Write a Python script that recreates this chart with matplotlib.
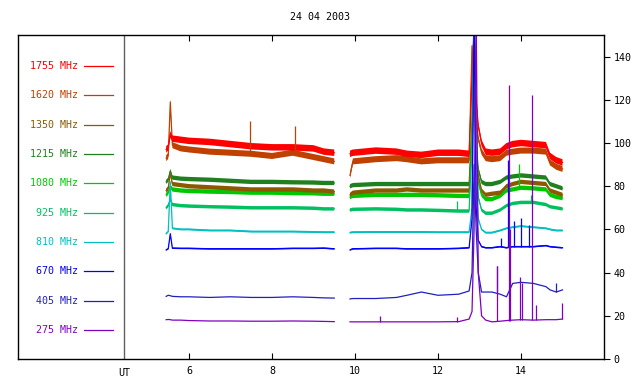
import numpy as np
import matplotlib
matplotlib.use('Agg')
import matplotlib.pyplot as plt

nan = np.nan

# time grid (UT hours), NaN marks the data gap
hours = [5.45, 5.5, 5.55, 5.6, 5.8, 6.0, 6.5, 7.0, 7.5, 8.0, 8.5, 9.0, 9.25, 9.5, nan,
         9.88, 9.95, 10.5, 11.0, 11.25, 11.6, 12.0, 12.5, 12.75, 12.82, 12.87, 12.92, 12.97,
         13.05, 13.15, 13.3, 13.5, 13.65, 13.8, 14.0, 14.3, 14.6, 14.7, 14.85, 15.0]

labels = ['1755 MHz', '1620 MHz', '1350 MHz', '1215 MHz', '1080 MHz',
          '925 MHz', '810 MHz', '670 MHz', '405 MHz', '275 MHz']
colors = ['#ff0000', '#c04000', '#8b5a00', '#208020', '#00c800',
          '#00c060', '#00c0c0', '#0000ff', '#2020c0', '#8000c0']

f1755 = [97, 98, 104, 102, 101.5, 101, 100.5, 99.5, 98.5, 98, 98, 97.5, 96, 95.5, nan,
         95, 95.5, 96.5, 96, 95, 94.5, 95.5, 95.5, 95, 130, 155, 120, 108,
         100, 96, 95.5, 96, 98.5, 99.5, 100, 99.5, 99, 94, 92, 91]
f1620 = [93, 94, 119, 99, 97.5, 97, 96, 95.5, 95, 94, 95.5, 93.5, 92.5, 91.5, nan,
         85, 91.5, 92.5, 93, 92.5, 91.5, 92, 92, 92, 145, 125, 110, 102,
         96, 93, 92.5, 93, 95.5, 96, 96.5, 96.5, 96, 91, 89, 88]
f1350 = [78, 79, 86, 81, 80.5, 80, 79.5, 79, 78.5, 78.5, 78.5, 78, 78, 77.5, nan,
         76, 77, 78, 78, 78.5, 78, 78, 78, 78, 100, 120, 95, 85,
         78, 76, 76.5, 77, 80, 81, 82, 81.5, 81, 78, 77, 76]
f1215 = [82, 83, 87, 84, 83.5, 83.3, 83, 82.5, 82, 82, 81.8, 81.7, 81.5, 81.5, nan,
         80, 80.5, 81, 81, 81, 81, 81, 81, 81, 110, 155, 100, 88,
         82, 81, 81, 82, 84, 84.5, 85, 84.5, 84, 81, 80, 79]
f1080 = [76, 77, 80, 78.5, 78, 77.8, 77.5, 77.3, 77, 77, 76.8, 76.7, 76.5, 76.5, nan,
         75, 75.5, 76, 76, 76, 76, 75.8, 75.5, 75.5, 105, 160, 100, 82,
         76, 74, 74, 75.5, 78, 78.5, 79.3, 79, 78.5, 76, 75, 74.5]
f925 = [70, 71, 74, 71.5, 71, 70.8, 70.5, 70.3, 70, 70, 70, 69.8, 69.5, 69.5, nan,
        69, 69.3, 69.5, 69.3, 69, 69, 68.8, 68.5, 68.5, 100, 160, 95, 75,
        69, 67.5, 67.5, 69, 71, 72, 72.5, 72.5, 71.5, 70.5, 70, 69.5]
f810 = [58, 59, 82, 60.5, 60, 60, 59.5, 59.5, 59, 59, 59, 58.8, 58.7, 58.7, nan,
        58.5, 58.7, 58.8, 58.8, 58.8, 58.8, 58.7, 58.7, 58.7, 70, 160, 80, 65,
        60, 58.5, 58.5, 59.5, 60.5, 61, 61.5, 61, 60.5, 60, 59.5, 59.5]
f670 = [50.5, 51, 58, 51.3, 51.2, 51.2, 51, 51, 51, 51, 51.2, 51.2, 51.3, 51, nan,
        50.5, 51, 51.2, 51.2, 51, 51, 51, 51.2, 51.5, 65, 160, 70, 55,
        52, 51.5, 51.5, 52, 51.5, 52, 52, 52, 52.5, 52, 51.7, 51.5]
f405 = [29, 29.5, 29.3, 29, 28.8, 28.8, 28.5, 28.8, 28.5, 28.5, 28.8, 28.5, 28.3, 28.2, nan,
        27.8, 28, 28, 28.5, 29.5, 31, 29.5, 30, 31.5, 40, 90, 60, 40,
        31, 31, 31, 30, 28.8, 35, 35.5, 35, 33.5, 32, 31, 32]
f275 = [18.2, 18.3, 18.2, 18, 18, 17.8, 17.6, 17.6, 17.5, 17.5, 17.6, 17.5, 17.4, 17.3, nan,
        17.2, 17.2, 17.2, 17.2, 17.2, 17.2, 17.2, 17.3, 18.5, 22, 60, 160, 40,
        20, 18, 17.2, 17.5, 17.8, 18, 18.2, 18, 18.2, 18.2, 18.2, 18.5]
series = [f1755, f1620, f1350, f1215, f1080, f925, f810, f670, f405, f275]
# half-width of the noise band of each channel
noise = [1.5, 1.4, 1.0, 1.0, 1.0, 0.8, 0.45, 0.35, 0.0, 0.0]
# drawing order (brown on top of greens like the original)
order = [3, 4, 2, 1, 0, 5, 6, 7, 8, 9]

# isolated spikes: (time, base, peak)
spikes_1620 = [(7.47, 95, 110), (8.55, 95, 108)]
spikes_1080 = [(13.95, 79, 90.5)]
spikes_925 = [(12.45, 68.5, 73), (14.23, 72, 76)]
spikes_670 = [(13.52, 52, 56), (13.68, 52, 92), (13.83, 52, 64), (14.0, 52, 65.5), (14.19, 52, 62)]
spikes_405 = [(13.41, 31, 43), (14.85, 31, 35)]
spikes_275 = [(13.42, 17.5, 43), (13.7, 17.8, 127), (13.73, 17.8, 60), (13.97, 18, 38),
              (14.02, 18, 35), (14.27, 18.2, 122), (14.35, 18.2, 25), (15.0, 18.5, 26),
              (10.6, 17.2, 20), (12.45, 17.3, 19.5)]
spikes = {1: spikes_1620, 4: spikes_1080, 5: spikes_925, 7: spikes_670, 8: spikes_405, 9: spikes_275}

fig = plt.figure(figsize=(6.4, 3.84), dpi=100)
ax = fig.add_axes([18 / 640, 25 / 384, 586 / 640, 324 / 384])
mono = 'DejaVu Sans Mono'

t = np.array(hours)
for k, i in enumerate(order):
    v = np.array(series[i], dtype=float)
    if noise[i] > 0:
        ax.fill_between(t, v - noise[i], v + noise[i], color=colors[i], lw=0, zorder=2 + k * 0.01)
    ax.plot(t, v, color=colors[i], lw=0.9, zorder=2 + k * 0.01)
    for s in spikes.get(i, []):
        ax.vlines(s[0], s[1], s[2], color=colors[i], lw=0.9, zorder=3)

# legend drawn inside the left panel
for i in range(len(labels)):
    y = 135.7 - i * 13.58
    ax.text(3.33, y, labels[i], color=colors[i], ha='right', va='center', fontsize=7.2, family=mono)
    ax.plot([3.47, 4.16], [y, y], color=colors[i], lw=0.9)

ax.axvline(4.43, color='#606060', lw=1)
ax.text(4.43, -4, 'UT', ha='center', va='top', fontsize=7.2, family=mono)

ax.set_xlim(1.88, 16.0)
ax.set_ylim(0, 150)
ax.set_xticks([6, 8, 10, 12, 14])
ax.set_yticks(range(0, 141, 20))
ax.yaxis.tick_right()
ax.tick_params(axis='x', direction='in', top=True, bottom=True, length=4, labelsize=7.2, pad=5)
ax.tick_params(axis='y', direction='out', right=True, left=False, length=4, labelsize=7.2, pad=3)
for lab in ax.get_xticklabels() + ax.get_yticklabels():
    lab.set_family(mono)
for sp in ax.spines.values():
    sp.set_linewidth(1)

fig.text(0.5, 1 - 17 / 384, '24 04 2003', ha='center', va='center', fontsize=7.2, family=mono)

fig.savefig('out.png', dpi=100)
